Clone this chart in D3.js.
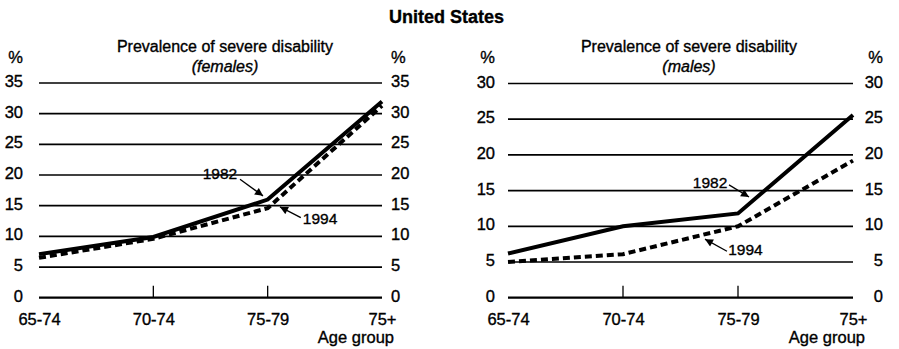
<!DOCTYPE html>
<html>
<head>
<meta charset="utf-8">
<script src="https://cdn.jsdelivr.net/npm/d3@7"></script>
<style>
  html, body { margin: 0; padding: 0; background: #fff; }
  svg { display: block; font-family: "Liberation Sans", Arial, Helvetica, sans-serif; }
  svg text { stroke: #000; stroke-width: 0.35px; fill: #000; }
</style>
</head>
<body>
<svg id="chart" width="899" height="349"></svg>
<script>
// ---- data ----
const categories = ["65-74", "70-74", "75-79", "75+"];
const female1982 = [7.1, 9.9, 16.0, 32.0];
const female1994 = [6.5, 9.6, 14.6, 31.3];
const male1982 = [6.2, 10.0, 11.8, 25.6];
const male1994 = [5.0, 6.1, 10.0, 19.2];
const femaleTicks = [0, 5, 10, 15, 20, 25, 30, 35];
const maleTicks = [0, 5, 10, 15, 20, 25, 30];
const mainTitle = "United States";
const panelTitle = "Prevalence of severe disability";
const femaleSubtitle = "(females)";
const maleSubtitle = "(males)";
const xAxisTitle = "Age group";
const unitLabel = "%";
// annotations in data space: [category index, value]
const femaleNotes = [
  { label: "1982", text: [1.583, 20.3], from: [1.758, 19.3], to: [1.959, 16.6] },
  { label: "1994", text: [2.458, 13.0], from: [2.29, 13.05], to: [2.108, 14.8] }
];
const maleNotes = [
  { label: "1982", text: [1.757, 16.2], from: [1.922, 15.8], to: [2.096, 14.1] },
  { label: "1994", text: [2.065, 6.7], from: [1.904, 6.5], to: [1.713, 8.2] }
];

const svg = d3.select("#chart");

svg.append("defs").append("marker")
  .attr("id", "arrow").attr("viewBox", "0 0 10 10")
  .attr("refX", 10).attr("refY", 5)
  .attr("markerWidth", 10).attr("markerHeight", 8)
  .attr("markerUnits", "userSpaceOnUse")
  .attr("orient", "auto")
  .append("path").attr("d", "M0,0 L10,5 L0,10 Z").attr("fill", "#000");

svg.append("text")
  .attr("x", 446.5).attr("y", 23)
  .attr("text-anchor", "middle")
  .attr("font-size", 18).attr("font-weight", "bold")
  .text(mainTitle);

function panel(opts) {
  const { x0, x1, yTop, maxV, ticks, s1982, s1994, subtitle, titleX, notes, rightAnchor, rightX, leftX } = opts;
  const g = svg.append("g");
  const x = d3.scalePoint().domain(categories).range([x0, x1]);
  const y = d3.scaleLinear().domain([0, maxV]).range([297.7, yTop]);
  const xi = d3.scaleLinear().domain([0, categories.length - 1]).range([x0, x1]);

  // titles
  g.append("text").attr("x", titleX).attr("y", 51.5).attr("text-anchor", "middle")
    .attr("font-size", 16).text(panelTitle);
  g.append("text").attr("x", titleX).attr("y", 71.5).attr("text-anchor", "middle")
    .attr("font-size", 16).attr("font-style", "italic").text(subtitle);

  // gridlines
  g.append("g").selectAll("line").data(ticks).join("line")
    .attr("x1", x0).attr("x2", x1)
    .attr("y1", d => y(d)).attr("y2", d => y(d))
    .attr("stroke", "#000").attr("stroke-width", d => d === 0 ? 2.2 : 1.7);

  // x tick marks (interior)
  g.append("g").selectAll("line").data(categories.slice(1, -1)).join("line")
    .attr("x1", d => x(d)).attr("x2", d => x(d))
    .attr("y1", y(0)).attr("y2", y(0) - 12)
    .attr("stroke", "#000").attr("stroke-width", 1.3);

  // left y axis labels
  const axL = d3.axisLeft(y).tickValues(ticks).tickSize(0).tickPadding(0);
  const gl = g.append("g").attr("transform", `translate(${leftX},0)`).call(axL);
  gl.select(".domain").remove();
  gl.selectAll("text").attr("font-size", 16.5).attr("font-family", null)
    .attr("fill", "#000").attr("dy", 3.5).attr("text-anchor", "end").attr("x", 0);

  // right y axis labels
  const axR = d3.axisRight(y).tickValues(ticks).tickSize(0).tickPadding(0);
  const gr = g.append("g").attr("transform", `translate(${rightX},0)`).call(axR);
  gr.select(".domain").remove();
  gr.selectAll("text").attr("font-size", 16.5).attr("font-family", null)
    .attr("fill", "#000").attr("dy", 3.5).attr("text-anchor", rightAnchor).attr("x", 0);

  // % labels
  g.append("text").attr("x", leftX).attr("y", 63).attr("text-anchor", "end")
    .attr("font-size", 16.5).text(unitLabel);
  g.append("text").attr("x", rightX).attr("y", 63)
    .attr("text-anchor", rightAnchor).attr("font-size", 16.5).text(unitLabel);

  // x axis labels
  const axX = d3.axisBottom(x).tickSize(0).tickPadding(0);
  const gx = g.append("g").attr("transform", `translate(0,324.5)`).call(axX);
  gx.select(".domain").remove();
  gx.selectAll("text").attr("font-size", 16.5).attr("font-family", null)
    .attr("fill", "#000").attr("dy", 0).attr("y", 0);
  g.append("text").attr("x", x1 + 12).attr("y", 342.5).attr("text-anchor", "end")
    .attr("font-size", 16.5).text(xAxisTitle);

  // lines
  const line = d3.line().x((d, i) => x(categories[i])).y(d => y(d));
  g.append("path").datum(s1994).attr("d", line)
    .attr("fill", "none").attr("stroke", "#000").attr("stroke-width", 4)
    .attr("stroke-dasharray", "7,4");
  g.append("path").datum(s1982).attr("d", line)
    .attr("fill", "none").attr("stroke", "#000").attr("stroke-width", 4)
    .attr("stroke-linejoin", "miter");

  // annotations
  notes.forEach(n => {
    g.append("line")
      .attr("x1", xi(n.from[0])).attr("y1", y(n.from[1]))
      .attr("x2", xi(n.to[0])).attr("y2", y(n.to[1]))
      .attr("stroke", "#000").attr("stroke-width", 1.3)
      .attr("marker-end", "url(#arrow)");
    g.append("text").attr("x", xi(n.text[0])).attr("y", y(n.text[1]))
      .attr("dy", "0.36em").attr("text-anchor", "middle")
      .attr("font-size", 15.5).text(n.label);
  });
}

panel({ x0: 39, x1: 382, yTop: 83, maxV: 35, ticks: femaleTicks,
  s1982: female1982, s1994: female1994, subtitle: femaleSubtitle, titleX: 225,
  notes: femaleNotes, leftX: 23, rightX: 391, rightAnchor: "start" });

panel({ x0: 508, x1: 853, yTop: 83.5, maxV: 30, ticks: maleTicks,
  s1982: male1982, s1994: male1994, subtitle: maleSubtitle, titleX: 689,
  notes: maleNotes, leftX: 495, rightX: 883, rightAnchor: "end" });
</script>
</body>
</html>
